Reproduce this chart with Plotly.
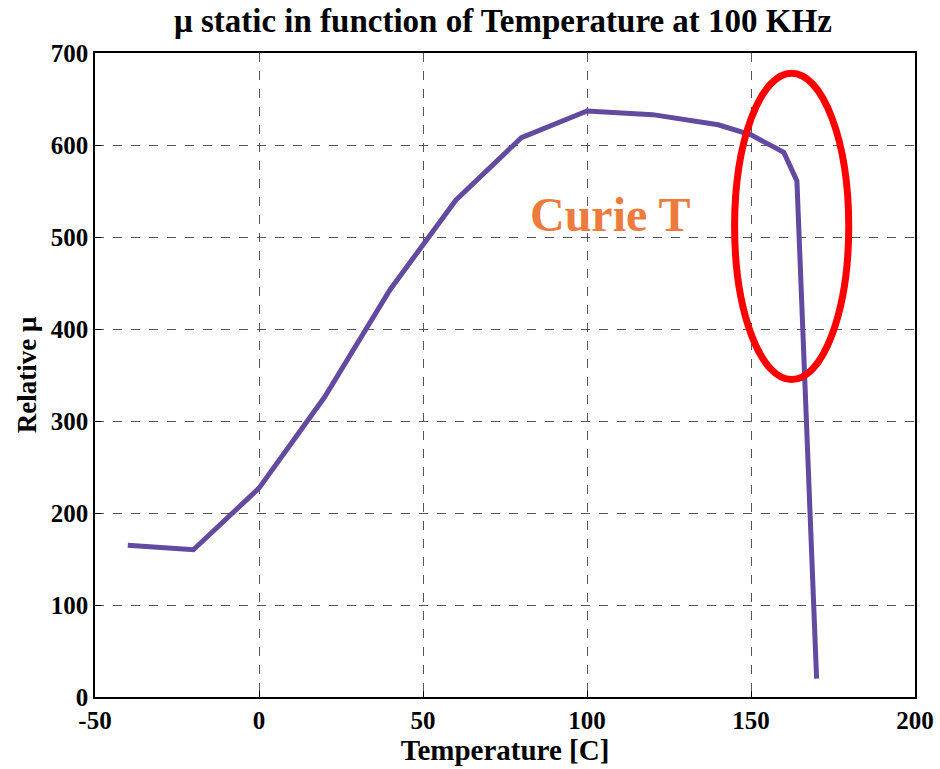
import plotly.graph_objects as go

temperature = [-40, -20, 0, 20, 40, 60, 80, 100, 120, 140, 150, 160, 164, 170]
relative_mu = [165, 160, 227, 326, 443, 540, 608, 637, 633, 622, 611, 592, 561, 20]

x_ticks = [-50, 0, 50, 100, 150, 200]
y_ticks = [0, 100, 200, 300, 400, 500, 600, 700]

font_family = "Liberation Serif"

fig = go.Figure()
fig.add_trace(go.Scatter(
    x=temperature, y=relative_mu, mode="lines",
    line=dict(color="#614a9f", width=5), showlegend=False,
))

fig.add_shape(type="circle", xref="x", yref="y",
              x0=145, x1=179.8, y0=345, y1=678,
              line=dict(color="#ff0000", width=7))

fig.add_annotation(x=107, y=524, xref="x", yref="y", text="<b>Curie T</b>",
                   showarrow=False, font=dict(family=font_family, size=48, color="#ee7a3c"))

axis_common = dict(
    showline=True, linecolor="black", linewidth=1.5, mirror=True,
    showgrid=True, gridcolor="#555555", griddash="dash", gridwidth=1,
    ticks="inside", ticklen=6, tickcolor="black", zeroline=False,
    automargin=False,
    tickfont=dict(family=font_family, size=25, color="black", weight="bold"),
)

fig.update_xaxes(range=[-50, 200], tickvals=x_ticks, ticktext=[str(v) for v in x_ticks],
                 title=dict(text="<b>Temperature [C]</b>", font=dict(family=font_family, size=29, color="black"), standoff=0),
                 **axis_common)
fig.update_yaxes(range=[0, 700], tickvals=y_ticks, ticktext=[str(v) for v in y_ticks],
                 title=dict(text="<b>Relative μ</b>", font=dict(family=font_family, size=27, color="black"), standoff=6),
                 **axis_common)

fig.update_layout(
    width=940, height=769,
    margin=dict(l=95, r=25, t=53, b=72),
    paper_bgcolor="white", plot_bgcolor="white",
    title=dict(text="<b>μ static in function of Temperature at 100 KHz</b>",
               x=0.535, xanchor="center", y=0.974, yanchor="middle",
               font=dict(family=font_family, size=33, color="black")),
)

fig.write_html("out.html")
